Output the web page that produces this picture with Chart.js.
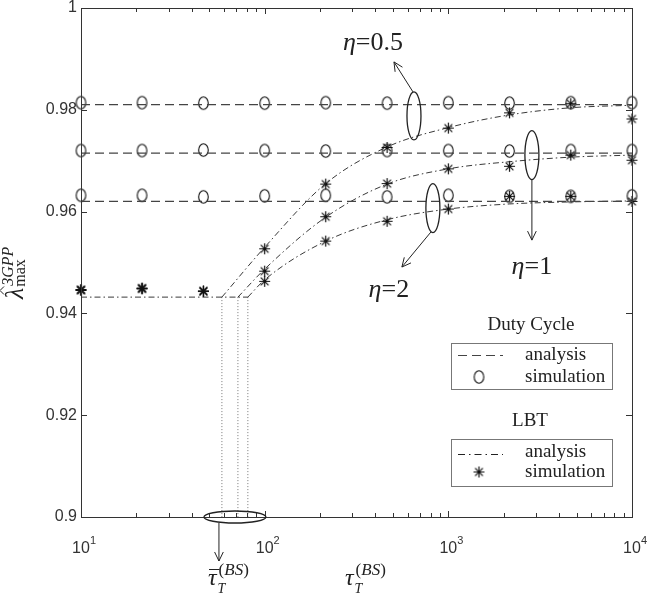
<!DOCTYPE html>
<html>
<head>
<meta charset="utf-8">
<title>Lambda max vs tau</title>
<script src="https://cdn.jsdelivr.net/npm/chart.js@4.4.1/dist/chart.umd.min.js"></script>
<style>
  html, body { margin: 0; padding: 0; background: #fff; }
  #wrap { width: 649px; height: 599px; }
</style>
</head>
<body>
<div id="wrap"><canvas id="lambda-chart" width="649" height="599"></canvas></div>
<script>
/* ============================================= */
/*                  Data                         */
/* ============================================= */
const tauValues = [10, 21.5, 46.4, 100, 215, 464, 1000, 2154, 4642, 10000];
const xTickValues = [10, 100, 1000, 10000];
const yTickValues = [0.9, 0.92, 0.94, 0.96, 0.98, 1];

// Duty Cycle (circles = simulation, dashed = analysis), eta = 0.5 / 1 / 2
const dutySim05 = [0.9814, 0.9814, 0.9813, 0.9813, 0.9814, 0.9813, 0.9814, 0.9813, 0.9814, 0.9814];
const dutySim1 = [0.9720, 0.9720, 0.9721, 0.9720, 0.9719, 0.9720, 0.9720, 0.9719, 0.9720, 0.9720];
const dutySim2 = [0.9632, 0.9632, 0.9629, 0.9631, 0.9632, 0.9629, 0.9632, 0.9630, 0.9630, 0.9631];
const dutyAnalysis = [0.9810, 0.9715, 0.9620];

// LBT (stars = simulation, dash-dot = analysis)
const lbtSim05 = [0.9447, 0.9450, 0.9444, 0.9527, 0.9654, 0.9726, 0.9764, 0.9794, 0.9812, 0.9782];
const lbtSim1 = [0.9446, 0.9449, 0.9444, 0.9483, 0.9590, 0.9655, 0.9684, 0.9689, 0.9711, 0.9701];
const lbtSim2 = [0.9445, 0.9448, 0.9443, 0.9463, 0.9542, 0.9581, 0.9605, 0.9630, 0.9630, 0.9620];
const lbtFloor = 0.9432;
const lbtKnee = [58.5, 71.5, 81];
const lbtTau = [100, 215, 464, 1000, 2154, 4642, 10000];
const lbtFit05 = [0.9530, 0.9655, 0.9727, 0.9765, 0.9790, 0.9804, 0.9809];
const lbtFit1 = [0.9487, 0.9589, 0.9654, 0.9684, 0.9698, 0.9707, 0.9711];
const lbtFit2 = [0.9466, 0.9542, 0.9584, 0.9605, 0.9615, 0.9619, 0.9621];

const serif = "'Liberation Serif', 'Times New Roman', serif";
const sans = "'Liberation Sans', Arial, sans-serif";

/* ============================================= */
/*                  Markers                      */
/* ============================================= */
function makeCircleMarker() {
  const c = document.createElement("canvas");
  c.width = 13; c.height = 16;
  const g = c.getContext("2d");
  g.strokeStyle = "#111";
  g.lineWidth = 1.1;
  g.beginPath();
  g.ellipse(6.5, 8, 4.8, 6.3, 0, 0, Math.PI * 2);
  g.stroke();
  return c;
}

function makeStarMarker() {
  const c = document.createElement("canvas");
  c.width = 13; c.height = 13;
  const g = c.getContext("2d");
  g.strokeStyle = "#111";
  g.lineWidth = 1.2;
  const r = 5.5;
  g.beginPath();
  for (let k = 0; k < 4; k++) {
    const t = k * Math.PI / 4;
    g.moveTo(6.5 + r * Math.cos(t), 6.5 + r * Math.sin(t));
    g.lineTo(6.5 - r * Math.cos(t), 6.5 - r * Math.sin(t));
  }
  g.stroke();
  return c;
}

const circleMarker = makeCircleMarker();
const starMarker = makeStarMarker();

const pairs = (xs, ys) => xs.map((v, i) => ({ x: v, y: ys[i] }));

function flatLine(v) {
  return {
    data: [{ x: tauValues[0], y: v }, { x: tauValues[tauValues.length - 1], y: v }],
    showLine: true, borderColor: "#444", borderWidth: 1.2, borderDash: [9, 5],
    pointRadius: 0
  };
}

function lbtCurve(knee, ys) {
  return {
    data: [{ x: knee, y: lbtFloor }].concat(pairs(lbtTau, ys)),
    showLine: true, borderColor: "#222", borderWidth: 0.9, borderDash: [6, 3, 1.5, 3],
    cubicInterpolationMode: "monotone", pointRadius: 0
  };
}

function kneeLine(k) {
  return {
    data: [{ x: k, y: lbtFloor }, { x: k, y: yTickValues[0] }],
    showLine: true, borderColor: "#777", borderWidth: 1, borderDash: [1, 2],
    pointRadius: 0
  };
}

function markers(ys, style) {
  return {
    data: pairs(tauValues, ys),
    showLine: false, pointStyle: style, pointRadius: 6, clip: false
  };
}

/* ============================================= */
/*             Drawing helpers                   */
/* ============================================= */
function font(size, italic) {
  return (italic ? "italic " : "") + size + "px " + serif;
}

function arrow(ctx, x1, y1, x2, y2) {
  const a = Math.atan2(y2 - y1, x2 - x1);
  const h = 10, s = 0.45;
  ctx.beginPath();
  ctx.moveTo(x1, y1);
  ctx.lineTo(x2, y2);
  ctx.moveTo(x2 - h * Math.cos(a - s), y2 - h * Math.sin(a - s));
  ctx.lineTo(x2, y2);
  ctx.lineTo(x2 - h * Math.cos(a + s), y2 - h * Math.sin(a + s));
  ctx.stroke();
}

function ellipse(ctx, cx, cy, rx, ry) {
  ctx.beginPath();
  ctx.ellipse(cx, cy, rx, ry, 0, 0, Math.PI * 2);
  ctx.stroke();
}

function etaLabel(ctx, value, cx, cy) {
  ctx.textBaseline = "middle";
  ctx.textAlign = "left";
  ctx.font = font(26, true);
  const w1 = ctx.measureText("\u03b7").width;
  ctx.font = font(26, false);
  const w2 = ctx.measureText("=" + value).width;
  const x0 = cx - (w1 + w2) / 2;
  ctx.font = font(26, true);
  ctx.fillText("\u03b7", x0, cy);
  ctx.font = font(26, false);
  ctx.fillText("=" + value, x0 + w1, cy);
}

// tau_T^(BS) style label, baseline at y
function tauLabel(ctx, x, y, withBar) {
  ctx.textBaseline = "alphabetic";
  ctx.textAlign = "left";
  ctx.font = font(24, true);
  const w = ctx.measureText("\u03c4").width;
  ctx.fillText("\u03c4", x, y);
  if (withBar) {
    ctx.beginPath();
    ctx.moveTo(x + 1, y - 15.5);
    ctx.lineTo(x + w + 3, y - 15.5);
    ctx.stroke();
  }
  ctx.font = font(17, false);
  ctx.fillText("(", x + w + 2, y - 10);
  let px = x + w + 2 + ctx.measureText("(").width;
  ctx.font = font(17, true);
  ctx.fillText("BS", px, y - 10);
  px += ctx.measureText("BS").width;
  ctx.font = font(17, false);
  ctx.fillText(")", px, y - 10);
  ctx.font = font(14, true);
  ctx.fillText("T", x + w + 1, y + 8);
}

/* ============================================= */
/*      Frame, ticks, labels, notes, legend      */
/* ============================================= */
const figureDecor = {
  id: "figureDecor",
  afterDatasetsDraw(chart) {
    const { ctx, chartArea: a, scales: { x, y } } = chart;
    ctx.save();
    ctx.strokeStyle = "#333";
    ctx.fillStyle = "#222";
    ctx.lineWidth = 1;
    ctx.setLineDash([]);

    // box
    ctx.strokeRect(a.left + 0.5, a.top + 0.5, a.right - a.left, a.bottom - a.top);

    // x ticks (inside, top and bottom)
    ctx.beginPath();
    for (let d = xTickValues[0]; d <= xTickValues[xTickValues.length - 1]; d *= 10) {
      for (let m = 1; m <= 9; m++) {
        const v = d * m;
        if (v > xTickValues[xTickValues.length - 1]) break;
        const px = Math.round(x.getPixelForValue(v)) + 0.5;
        const len = m === 1 ? 6 : 4;
        ctx.moveTo(px, a.bottom); ctx.lineTo(px, a.bottom - len);
        ctx.moveTo(px, a.top); ctx.lineTo(px, a.top + len);
      }
    }
    // y ticks (inside, left and right)
    yTickValues.forEach((v) => {
      const py = Math.round(y.getPixelForValue(v)) + 0.5;
      ctx.moveTo(a.left, py); ctx.lineTo(a.left + 6, py);
      ctx.moveTo(a.right, py); ctx.lineTo(a.right - 6, py);
    });
    ctx.stroke();

    // x tick labels 10^n
    ctx.fillStyle = "#333";
    xTickValues.forEach((v) => {
      const px = x.getPixelForValue(v);
      const ex = String(Math.round(Math.log10(v)));
      ctx.font = "16px " + sans;
      ctx.textAlign = "center";
      ctx.textBaseline = "middle";
      ctx.fillText("10", px, a.bottom + 32);
      const w = ctx.measureText("10").width;
      ctx.font = "11px " + sans;
      ctx.textAlign = "left";
      ctx.fillText(ex, px + w / 2, a.bottom + 24);
    });

    // axis titles
    ctx.fillStyle = "#222";
    ctx.strokeStyle = "#222";
    tauLabel(ctx, 345, 585, false);
    tauLabel(ctx, 208, 585, true);

    // y title: lambda hat ^3GPP _max (rotated)
    ctx.save();
    ctx.translate(23, 299);
    ctx.rotate(-Math.PI / 2);
    ctx.textAlign = "left";
    ctx.textBaseline = "alphabetic";
    ctx.font = font(26, true);
    const lw = ctx.measureText("\u03bb").width;
    ctx.fillText("\u03bb", 0, 0);
    ctx.beginPath();
    ctx.moveTo(4.5, -19); ctx.lineTo(8.5, -23); ctx.lineTo(12.5, -19);
    ctx.lineWidth = 1;
    ctx.stroke();
    ctx.font = font(16, true);
    ctx.fillText("3GPP", lw + 2, -10);
    ctx.font = font(16, false);
    ctx.fillText("max", lw + 1, 2);
    ctx.restore();

    // annotations
    ctx.lineWidth = 1.3;
    const e05 = { x: x.getPixelForValue(650), y: y.getPixelForValue(0.9788) };
    const e1 = { x: x.getPixelForValue(2851), y: y.getPixelForValue(0.9711) };
    const e2 = { x: x.getPixelForValue(824), y: y.getPixelForValue(0.9607) };
    const eTau = { x: x.getPixelForValue(68.9), y: a.bottom };

    ellipse(ctx, e05.x, e05.y, 7, 24);
    ellipse(ctx, e1.x, e1.y, 7, 24.5);
    ellipse(ctx, e2.x, e2.y, 7, 24.5);
    ellipse(ctx, eTau.x, eTau.y, 31, 6);

    ctx.lineWidth = 1;
    arrow(ctx, e05.x - 1, e05.y - 24, e05.x - 20, e05.y - 54);
    arrow(ctx, e1.x, e1.y + 24.5, e1.x, e1.y + 85);
    arrow(ctx, e2.x - 2, e2.y + 24, e2.x - 31, e2.y + 59);
    arrow(ctx, eTau.x - 16, eTau.y + 6, eTau.x - 16, eTau.y + 44);

    etaLabel(ctx, "0.5", e05.x - 41, e05.y - 73);
    etaLabel(ctx, "1", e1.x, e1.y + 112);
    etaLabel(ctx, "2", e2.x - 44, e2.y + 82);

    // legend
    ctx.lineWidth = 1;
    ctx.strokeStyle = "#777";
    ctx.strokeRect(451.5, 343.5, 161, 46);
    ctx.strokeRect(451.5, 439.5, 161, 47);
    ctx.fillStyle = "#222";
    ctx.font = font(19, false);
    ctx.textAlign = "center";
    ctx.textBaseline = "middle";
    ctx.fillText("Duty Cycle", 531, 325);
    ctx.fillText("LBT", 530, 421);
    ctx.textAlign = "left";
    ctx.fillText("analysis", 525, 355);
    ctx.fillText("simulation", 525, 377);
    ctx.fillText("analysis", 525, 452);
    ctx.fillText("simulation", 525, 472);

    ctx.strokeStyle = "#444";
    ctx.lineWidth = 1.2;
    ctx.setLineDash([9, 5]);
    ctx.beginPath(); ctx.moveTo(458, 355.5); ctx.lineTo(503, 355.5); ctx.stroke();
    ctx.strokeStyle = "#222";
    ctx.lineWidth = 1;
    ctx.setLineDash([7, 4, 1.5, 4]);
    ctx.beginPath(); ctx.moveTo(458, 454.5); ctx.lineTo(503, 454.5); ctx.stroke();
    ctx.setLineDash([]);
    ctx.drawImage(circleMarker, 479 - 6.5, 377 - 8);
    ctx.drawImage(starMarker, 479 - 6.5, 472 - 6.5);

    ctx.restore();
  }
};

/* ============================================= */
/*                  Chart                        */
/* ============================================= */
const lambdaCanvas = document.querySelector("#lambda-chart");

const lambdaChart = new Chart(lambdaCanvas, {
  type: "scatter",
  data: {
    datasets: [
      flatLine(dutyAnalysis[0]),
      flatLine(dutyAnalysis[1]),
      flatLine(dutyAnalysis[2]),
      {
        data: [{ x: tauValues[0], y: lbtFloor }, { x: lbtKnee[2], y: lbtFloor }],
        showLine: true, borderColor: "#222", borderWidth: 0.9, borderDash: [6, 3, 1.5, 3],
        pointRadius: 0
      },
      lbtCurve(lbtKnee[0], lbtFit05),
      lbtCurve(lbtKnee[1], lbtFit1),
      lbtCurve(lbtKnee[2], lbtFit2),
      kneeLine(lbtKnee[0]),
      kneeLine(lbtKnee[1]),
      kneeLine(lbtKnee[2]),
      markers(dutySim05, circleMarker),
      markers(dutySim1, circleMarker),
      markers(dutySim2, circleMarker),
      markers(lbtSim05, starMarker),
      markers(lbtSim1, starMarker),
      markers(lbtSim2, starMarker),
    ],
  },
  options: {
    responsive: false,
    animation: false,
    devicePixelRatio: 1,
    layout: { padding: { top: 8, right: 17, left: 0, bottom: 0 } },
    plugins: {
      legend: { display: false },
      tooltip: { enabled: false },
    },
    scales: {
      x: {
        type: "logarithmic",
        min: 10,
        max: 10000,
        grid: { display: false, drawTicks: false },
        border: { display: false },
        ticks: { display: false },
        afterBuildTicks: (s) => { s.ticks = xTickValues.map((v) => ({ value: v })); },
        afterFit: (s) => { s.height = 82; s.paddingLeft = 0; s.paddingRight = 0; },
      },
      y: {
        min: 0.9,
        max: 1,
        grid: { display: false, drawTicks: false },
        border: { display: false },
        ticks: {
          padding: 4,
          color: "#333",
          font: { family: sans, size: 16 },
          callback: (v) => String(+Number(v).toFixed(2)),
        },
        afterBuildTicks: (s) => { s.ticks = yTickValues.map((v) => ({ value: v })); },
        afterFit: (s) => { s.width = 81; s.paddingTop = 0; s.paddingBottom = 0; },
      },
    },
  },
  plugins: [figureDecor],
});
</script>
</body>
</html>
